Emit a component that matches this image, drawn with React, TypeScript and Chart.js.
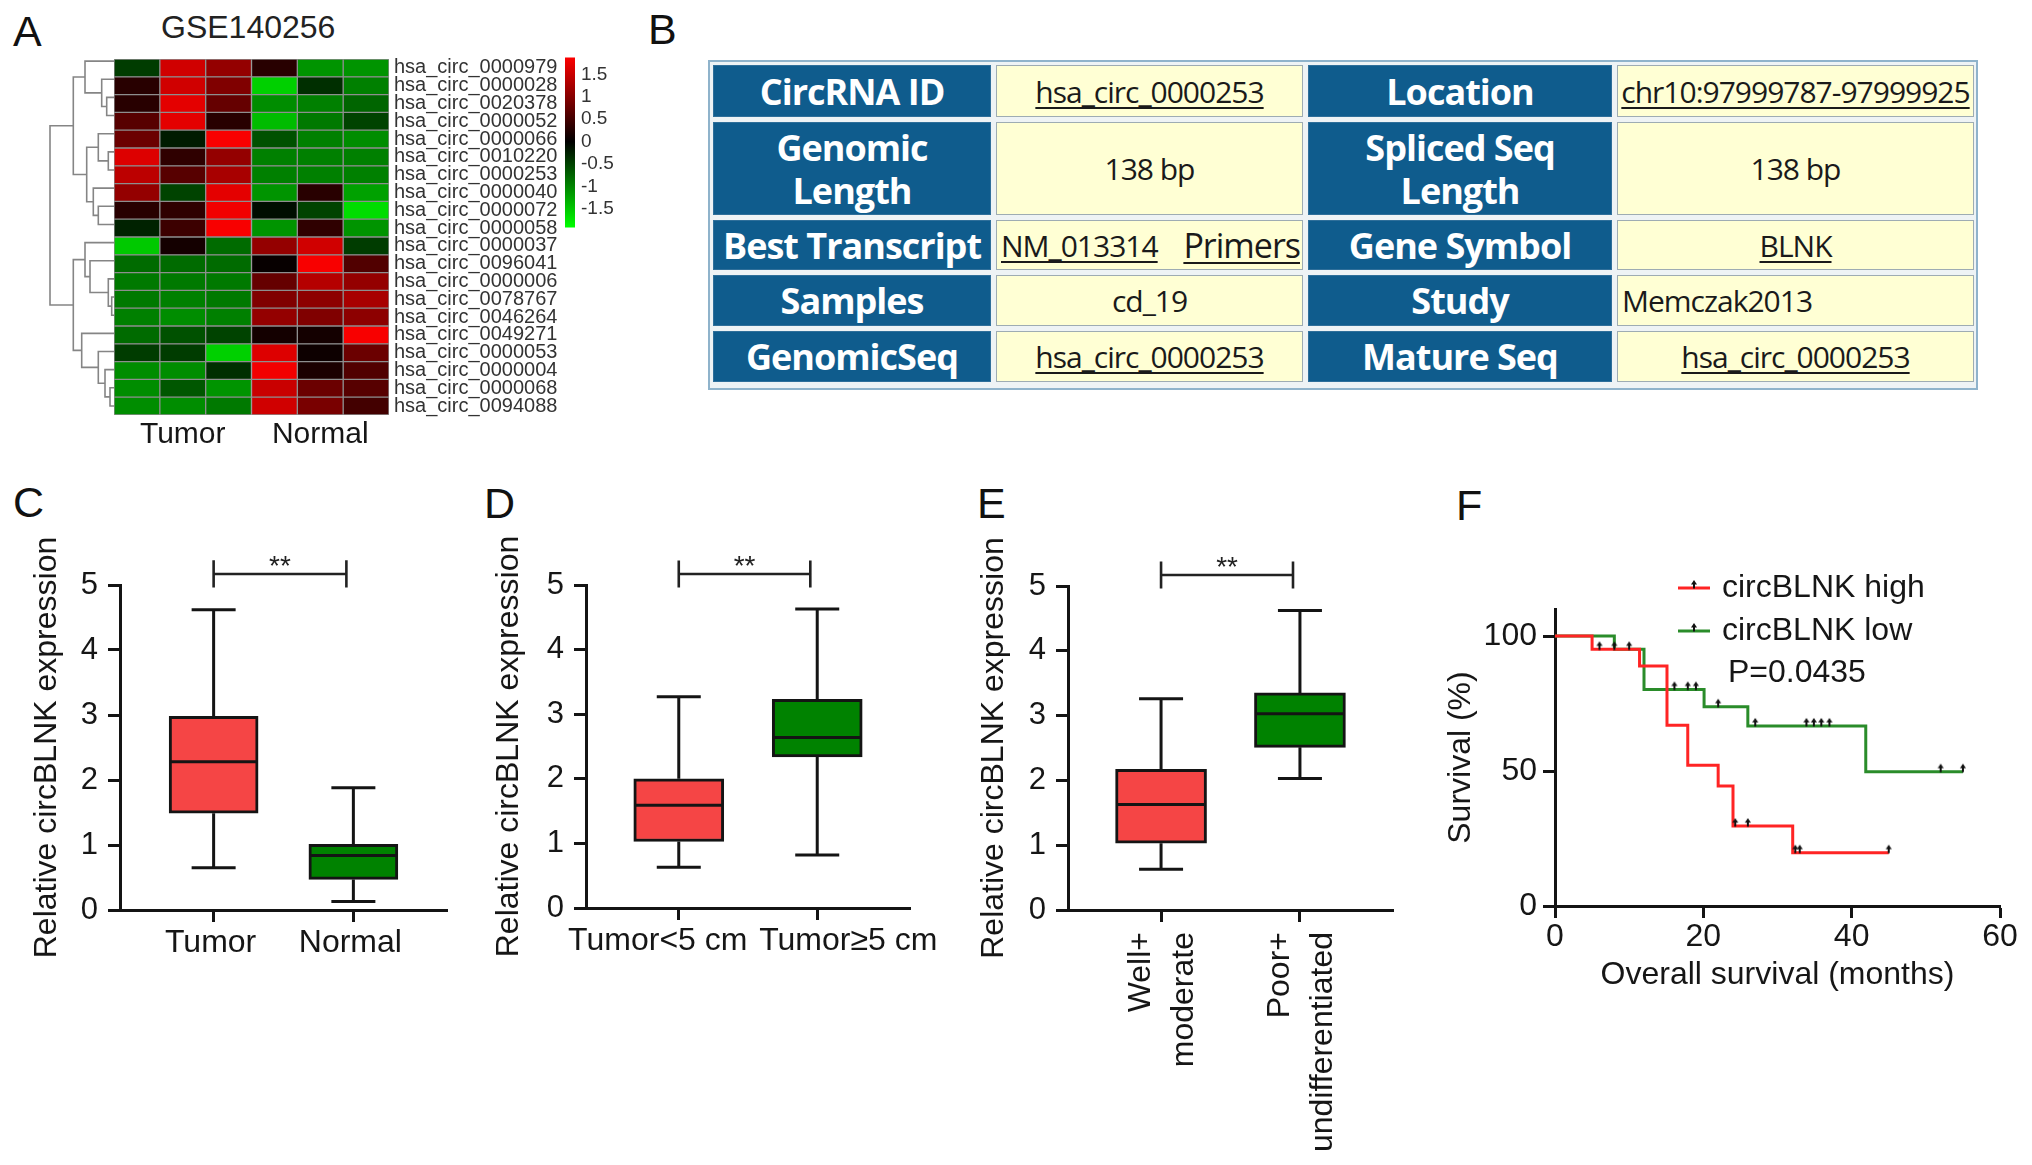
import React, { useEffect, useRef } from 'react';
import { Chart, registerables } from 'chart.js';

Chart.register(...registerables);

const SANS = '"Liberation Sans", Arial, Helvetica, sans-serif';
const TABLE_FONT = '"Open Sans", "Noto Sans", "DejaVu Sans", sans-serif';
const INK = '#161616';
const AXIS = '#141414';

Chart.defaults.font.family = SANS;
Chart.defaults.color = INK;

/* ================= Panel A : heatmap ================= */
const heatTitle = 'GSE140256';
const heatRows = [
  'hsa_circ_0000979', 'hsa_circ_0000028', 'hsa_circ_0020378', 'hsa_circ_0000052', 'hsa_circ_0000066',
  'hsa_circ_0010220', 'hsa_circ_0000253', 'hsa_circ_0000040', 'hsa_circ_0000072', 'hsa_circ_0000058',
  'hsa_circ_0000037', 'hsa_circ_0096041', 'hsa_circ_0000006', 'hsa_circ_0078767', 'hsa_circ_0046264',
  'hsa_circ_0049271', 'hsa_circ_0000053', 'hsa_circ_0000004', 'hsa_circ_0000068', 'hsa_circ_0094088',
];
const heatGroups = ['Tumor', 'Normal'];
const heatSamples = ['Tumor 1', 'Tumor 2', 'Tumor 3', 'Normal 1', 'Normal 2', 'Normal 3'];
const heatValues = [
  [-0.45, 1.55, 1.1, 0.3, -1.1, -1.1],
  [0.3, 1.55, 0.95, -1.55, -0.35, -0.95],
  [0.3, 1.7, 0.75, -1.05, -0.95, -0.75],
  [0.65, 1.7, 0.3, -1.4, -0.9, -0.5],
  [0.8, -0.2, 1.85, -0.6, -0.95, -1.05],
  [1.65, 0.35, 1.1, -0.95, -0.95, -0.95],
  [1.4, 0.65, 1.25, -0.95, -0.95, -0.95],
  [1.1, -0.5, 1.7, -1.1, 0.3, -1.2],
  [0.3, 0.35, 1.8, -0.1, -0.5, -1.65],
  [-0.25, 0.45, 1.85, -1.1, 0.35, -1.1],
  [-1.5, 0.15, -0.8, 1.1, 1.55, -0.45],
  [-0.8, -0.8, -0.8, 0.05, 1.85, 0.6],
  [-0.9, -0.9, -0.9, 0.75, 1.35, 1.1],
  [-0.9, -0.95, -0.9, 0.95, 1.05, 1.25],
  [-0.95, -1.05, -0.95, 1.1, 0.95, 1.05],
  [-0.8, -0.6, -0.5, 0.15, 0.15, 1.85],
  [-0.45, -0.45, -1.55, 1.65, 0.1, 0.8],
  [-1.05, -1.05, -0.35, 1.8, 0.2, 0.6],
  [-1.05, -0.65, -1.1, 1.5, 0.8, 0.65],
  [-1.05, -1.05, -0.9, 1.55, 0.9, 0.5],
];
const colorLimit = 1.9;
const colorbarRange = [-1.92, 1.88];
const colorbarTicks = [-1.5, -1, -0.5, 0, 0.5, 1, 1.5];
// hclust-style merges: negative = leaf (row index + 1), positive = earlier merge (1-based); third = height
const dendroMerges = [
  [-3, -4, 7.3], [-2, 1, 12.3], [-1, 2, 29], [-6, -7, 5.7], [-5, 4, 15.7],
  [-9, -10, 15.7], [-8, 6, 20.7], [5, 7, 27.3], [3, 8, 40.7], [-14, -15, 2.3],
  [-13, 10, 5.7], [-12, 11, 24], [-11, 12, 29], [-19, -20, 4], [-18, 14, 9],
  [-17, 15, 15.7], [-16, 16, 32.3], [13, 17, 40.7], [9, 18, 64],
];

/* ================= Panel B : table ================= */
const tableLeftHeads = ['CircRNA ID', 'Genomic\nLength', 'Best Transcript', 'Samples', 'GenomicSeq'];
const tableLeftValues = ['hsa_circ_0000253', '138 bp', ['NM_013314', 'Primers'], 'cd_19', 'hsa_circ_0000253'];
const tableLeftLinks = [true, false, true, false, true];
const tableRightHeads = ['Location', 'Spliced Seq\nLength', 'Gene Symbol', 'Study', 'Mature Seq'];
const tableRightValues = ['chr10:97999787-97999925', '138 bp', 'BLNK', 'Memczak2013', 'hsa_circ_0000253'];
const tableRightLinks = [true, false, true, false, true];
const tableRightAlign = ['center', 'center', 'center', 'left', 'center'];

/* ================= Panels C, D, E : box plots ================= */
const yTitleBox = 'Relative circBLNK expression';
const sigText = '**';

const cGroups = ['Tumor', 'Normal'];
const cMin = [0.65, 0.13];
const cQ1 = [1.49, 0.47];
const cMedian = [2.28, 0.84];
const cQ3 = [2.98, 1.01];
const cMax = [4.62, 1.88];

const dGroups = ['Tumor<5 cm', 'Tumor\u22655 cm'];
const dMin = [0.63, 0.82];
const dQ1 = [1.03, 2.34];
const dMedian = [1.59, 2.64];
const dQ3 = [2.0, 3.23];
const dMax = [3.27, 4.63];

const eGroups = [['Well+', 'moderate'], ['Poor+', 'undifferentiated']];
const eMin = [0.63, 2.03];
const eQ1 = [1.03, 2.51];
const eMedian = [1.63, 3.03];
const eQ3 = [2.17, 3.35];
const eMax = [3.26, 4.62];

/* ================= Panel F : Kaplan-Meier ================= */
const kmLabels = ['circBLNK high', 'circBLNK low'];
const highTimes = [0, 5, 11.4, 15.1, 17.9, 22, 24, 32.05, 45];
const highSurv = [100, 95.06, 88.9, 66.9, 52.1, 44.4, 29.6, 19.75, 19.75];
const highCensor = [6, 8, 10, 24.3, 26, 32.4, 33, 45];
const lowTimes = [0, 8, 12, 20.1, 26, 41.9, 55];
const lowSurv = [100, 95.06, 80.2, 73.8, 66.7, 49.75, 49.75];
const lowCensor = [16.1, 17.9, 19, 22, 27, 33.9, 34.9, 35.9, 37, 52, 55];
const kmXTicks = [0, 20, 40, 60];
const kmYTicks = [0, 50, 100];
const kmXTitle = 'Overall survival (months)';
const kmYTitle = 'Survival (%)';
const pValueText = 'P=0.0435';

/* ================= helpers ================= */
const BOX_RED = '#f54545';
const BOX_GREEN = '#008200';
const KM_RED = '#ff2424';
const KM_GREEN = '#2a8c2a';

function heatColor(v: number) {
  const t = Math.max(-1, Math.min(1, v / colorLimit));
  return t >= 0 ? `rgb(${Math.round(255 * t)},0,0)` : `rgb(0,${Math.round(-255 * t)},0)`;
}

const tickGrid = () => ({
  display: true, drawOnChartArea: false, drawTicks: true, tickLength: 12, tickWidth: 3, color: AXIS, offset: false,
});
const axisBorder = () => ({ display: true, width: 3, color: AXIS });

let censorMark: any = null;
function getCensorMark() {
  if (censorMark) return censorMark;
  const c = document.createElement('canvas');
  c.width = 8;
  c.height = 18;
  const g = c.getContext('2d')!;
  g.fillStyle = '#111';
  g.strokeStyle = '#111';
  g.lineWidth = 2;
  g.beginPath();
  g.moveTo(4, 9.5);
  g.lineTo(4, 3);
  g.stroke();
  g.beginPath();
  g.moveTo(1, 5.5);
  g.lineTo(7, 5.5);
  g.lineTo(4, 1);
  g.closePath();
  g.fill();
  censorMark = c;
  return c;
}

function levelAt(ts: number[], ss: number[], t: number) {
  let v = ss[0];
  for (let i = 0; i < ts.length; i++) if (ts[i] <= t) v = ss[i];
  return v;
}

/* ================= plugins ================= */
const boxExtrasPlugin = {
  id: 'boxExtras',
  afterDatasetsDraw(chart: any, _a: any, o: any) {
    const { ctx } = chart;
    const x = chart.scales.x;
    const y = chart.scales.y;
    ctx.save();
    ctx.strokeStyle = AXIS;
    ctx.lineWidth = 3;
    ctx.lineCap = 'butt';
    for (let i = 0; i < o.min.length; i++) {
      const cx = x.getPixelForValue(i + 1);
      const hc = o.capWidth / 2;
      const hb = o.boxWidth / 2 - 1.5;
      const yMin = y.getPixelForValue(o.min[i]);
      const yQ1 = y.getPixelForValue(o.q1[i]);
      const yMed = y.getPixelForValue(o.median[i]);
      const yQ3 = y.getPixelForValue(o.q3[i]);
      const yMax = y.getPixelForValue(o.max[i]);
      ctx.beginPath();
      ctx.moveTo(cx, yQ1); ctx.lineTo(cx, yMin);
      ctx.moveTo(cx - hc, yMin); ctx.lineTo(cx + hc, yMin);
      ctx.moveTo(cx, yQ3); ctx.lineTo(cx, yMax);
      ctx.moveTo(cx - hc, yMax); ctx.lineTo(cx + hc, yMax);
      ctx.moveTo(cx - hb, yMed); ctx.lineTo(cx + hb, yMed);
      ctx.stroke();
    }
    const s = o.sig;
    if (s) {
      const x1 = x.getPixelForValue(s.from);
      const x2 = x.getPixelForValue(s.to);
      const yy = y.getPixelForValue(s.y);
      const yt = y.getPixelForValue(s.y + s.arm);
      const yb = y.getPixelForValue(s.y - s.arm);
      ctx.lineWidth = 2.6;
      ctx.strokeStyle = '#222';
      ctx.beginPath();
      ctx.moveTo(x1, yy); ctx.lineTo(x2, yy);
      ctx.moveTo(x1, yt); ctx.lineTo(x1, yb);
      ctx.moveTo(x2, yt); ctx.lineTo(x2, yb);
      ctx.stroke();
      ctx.fillStyle = '#222';
      ctx.font = `28px ${SANS}`;
      ctx.textAlign = 'center';
      ctx.textBaseline = 'alphabetic';
      ctx.fillText(s.text, (x1 + x2) / 2, yy + 1);
    }
    ctx.restore();
  },
};

const shiftedLabelsPlugin = {
  id: 'shiftedLabels',
  afterDraw(chart: any, _a: any, o: any) {
    if (!o || !o.labels) return;
    const { ctx } = chart;
    const x = chart.scales.x;
    ctx.save();
    ctx.font = `${o.size}px ${SANS}`;
    ctx.fillStyle = INK;
    ctx.textAlign = 'center';
    ctx.textBaseline = 'middle';
    for (let i = 0; i < o.labels.length; i++) {
      ctx.fillText(o.labels[i], x.getPixelForValue(i + 1) + o.shifts[i], x.top + o.dy);
    }
    ctx.restore();
  },
};

const kmLegendPlugin = {
  id: 'kmLegend',
  afterDraw(chart: any, _a: any, o: any) {
    const { ctx, chartArea } = chart;
    const mark = getCensorMark();
    ctx.save();
    ctx.font = `${o.size}px ${SANS}`;
    ctx.textAlign = 'left';
    ctx.textBaseline = 'middle';
    for (let k = 0; k < 2; k++) {
      const ds = chart.data.datasets[k];
      const yy = chartArea.top + o.rows[k];
      const xa = chartArea.left + o.lineFrom;
      const xb = chartArea.left + o.lineTo;
      ctx.strokeStyle = ds.borderColor;
      ctx.lineWidth = 3;
      ctx.beginPath();
      ctx.moveTo(xa, yy);
      ctx.lineTo(xb, yy);
      ctx.stroke();
      ctx.drawImage(mark, (xa + xb) / 2 - mark.width / 2, yy - mark.height / 2);
      ctx.fillStyle = INK;
      ctx.fillText(ds.label, chartArea.left + o.textX, yy);
    }
    ctx.fillText(o.note, chartArea.left + o.noteX, chartArea.top + o.noteY);
    ctx.restore();
  },
};

/* ================= chart configs ================= */
function heatmapConfig() {
  return {
    type: 'bar',
    data: {
      labels: heatRows,
      datasets: heatSamples.map((name, c) => ({
        label: name,
        data: heatRows.map(() => 1),
        backgroundColor: heatValues.map((row) => heatColor(row[c])),
        borderColor: '#8e8e8e',
        borderWidth: 1,
        borderSkipped: false,
        barPercentage: 1,
        categoryPercentage: 1,
      })),
    },
    options: {
      indexAxis: 'y',
      responsive: true,
      maintainAspectRatio: false,
      animation: false,
      events: [],
      layout: { padding: { left: 10, top: 10, right: 0, bottom: 0 } },
      plugins: { legend: { display: false }, tooltip: { enabled: false }, title: { display: false } },
      scales: {
        x: {
          type: 'linear', stacked: true, min: 0, max: heatSamples.length,
          afterBuildTicks: (s: any) => { s.ticks = [{ value: 1.5 }, { value: 4.5 }]; },
          afterFit: (s: any) => { s.height = 52; },
          ticks: {
            callback: (v: number) => heatGroups[v < heatSamples.length / 2 ? 0 : 1],
            font: { size: 30 }, color: INK, padding: 2, autoSkip: false, maxRotation: 0,
          },
          grid: { display: false, drawTicks: false },
          border: { display: false },
        },
        y: {
          type: 'category', stacked: true, position: 'right',
          afterFit: (s: any) => { s.width = 195; },
          ticks: { font: { size: 20 }, color: '#333', padding: 5, autoSkip: false },
          grid: { display: false, drawTicks: false },
          border: { display: false },
        },
      },
    },
  };
}

function dendroConfig() {
  const pos: { y: number; h: number }[] = [];
  const node = (id: number) => (id < 0 ? { y: -id - 1 + 0.5, h: 0 } : pos[id - 1]);
  const segs: any[] = [];
  dendroMerges.forEach(([a, b, h]) => {
    const A = node(a);
    const B = node(b);
    segs.push([{ x: A.h, y: A.y }, { x: h, y: A.y }, { x: h, y: B.y }, { x: B.h, y: B.y }]);
    pos.push({ y: (A.y + B.y) / 2, h });
  });
  return {
    type: 'line',
    data: {
      datasets: segs.map((d) => ({
        data: d, borderColor: '#858585', borderWidth: 1.6, pointRadius: 0, tension: 0, clip: false,
      })),
    },
    options: {
      responsive: true, maintainAspectRatio: false, animation: false, events: [],
      layout: { padding: { left: 2, right: 2, top: 5, bottom: 5 } },
      plugins: { legend: { display: false }, tooltip: { enabled: false } },
      scales: {
        x: { type: 'linear', reverse: true, min: 0, max: 68, display: false },
        y: { type: 'linear', reverse: true, min: 0, max: heatRows.length, display: false },
      },
    },
  };
}

function colorbarConfig() {
  return {
    type: 'bar',
    data: {
      labels: ['scale'],
      datasets: [{
        data: [colorbarRange],
        borderWidth: 0,
        barPercentage: 1,
        categoryPercentage: 1,
        backgroundColor: (c: any) => {
          const chart = c.chart;
          if (!chart.chartArea) return '#000';
          const y = chart.scales.y;
          const y0 = y.getPixelForValue(colorbarRange[0]);
          const y1 = y.getPixelForValue(colorbarRange[1]);
          const g = chart.ctx.createLinearGradient(0, y0, 0, y1);
          const zero = (0 - colorbarRange[0]) / (colorbarRange[1] - colorbarRange[0]);
          g.addColorStop(0, heatColor(colorbarRange[0]));
          g.addColorStop(zero, heatColor(0));
          g.addColorStop(1, heatColor(colorbarRange[1]));
          return g;
        },
      }],
    },
    options: {
      responsive: true, maintainAspectRatio: false, animation: false, events: [],
      layout: { padding: { left: 5, right: 0, top: 12, bottom: 12 } },
      plugins: { legend: { display: false }, tooltip: { enabled: false } },
      scales: {
        x: { display: false },
        y: {
          type: 'linear', position: 'right', min: colorbarRange[0], max: colorbarRange[1],
          afterBuildTicks: (s: any) => { s.ticks = colorbarTicks.map((v) => ({ value: v })); },
          afterFit: (s: any) => { s.width = 65; },
          ticks: { font: { size: 19 }, color: '#333', padding: 6, callback: (v: number) => String(v) },
          grid: { display: false, drawTicks: false },
          border: { display: false },
        },
      },
    },
  };
}

function boxConfig(o: any) {
  const tickValues = o.groups.map((_: any, i: number) => i + 1);
  const plugins: any[] = [boxExtrasPlugin];
  if (o.shifted) plugins.push(shiftedLabelsPlugin);
  return {
    type: 'bar',
    data: {
      datasets: [{
        label: 'interquartile range',
        data: o.q1.map((q: number, i: number) => ({ x: i + 1, y: [q, o.q3[i]] })),
        backgroundColor: [BOX_RED, BOX_GREEN],
        borderColor: AXIS,
        borderWidth: 3,
        borderSkipped: false,
        barThickness: o.boxWidth,
      }],
    },
    plugins,
    options: {
      responsive: true, maintainAspectRatio: false, animation: false, events: [],
      layout: { padding: { left: o.pad.left, top: o.pad.top, right: o.pad.right, bottom: 0 } },
      plugins: {
        legend: { display: false },
        tooltip: { enabled: false },
        boxExtras: {
          min: o.min, q1: o.q1, median: o.median, q3: o.q3, max: o.max,
          capWidth: o.capWidth, boxWidth: o.boxWidth,
          sig: { from: 1, to: 1.95, y: 5.17, arm: 0.21, text: sigText },
        },
        shiftedLabels: o.shifted ? { labels: o.groups, shifts: o.shifted, size: 32, dy: 33 } : {},
      },
      scales: {
        x: {
          type: 'linear', min: 0.33, max: 2.67, offset: false,
          afterBuildTicks: (s: any) => { s.ticks = tickValues.map((v: number) => ({ value: v })); },
          afterFit: (s: any) => { s.height = o.xHeight; },
          ticks: {
            display: !o.shifted,
            callback: (v: number) => o.groups[Math.round(v) - 1],
            font: { size: 32, lineHeight: o.lineHeight },
            color: INK, padding: o.xPad, autoSkip: false,
            maxRotation: o.rot, minRotation: o.rot, labelOffset: o.labelOffset,
          },
          grid: tickGrid(),
          border: axisBorder(),
        },
        y: {
          type: 'linear', min: 0, max: 5,
          afterFit: (s: any) => { s.width = o.yWidth; },
          ticks: { stepSize: 1, font: { size: 31 }, color: INK, padding: 10 },
          title: { display: true, text: yTitleBox, font: { size: 32 }, color: INK, padding: 0 },
          grid: tickGrid(),
          border: axisBorder(),
        },
      },
    },
  };
}

const configC = () => boxConfig({
  groups: cGroups, min: cMin, q1: cQ1, median: cMedian, q3: cQ3, max: cMax,
  pad: { left: 28, top: 50, right: 23 }, yWidth: 92, xHeight: 90,
  boxWidth: 89, capWidth: 44, rot: 0, labelOffset: -3, xPad: 2, lineHeight: 1.2,
});
const configD = () => boxConfig({
  groups: dGroups, min: dMin, q1: dQ1, median: dMedian, q3: dQ3, max: dMax,
  pad: { left: 20, top: 50, right: 30 }, yWidth: 96, xHeight: 92,
  boxWidth: 90, capWidth: 44, rot: 0, labelOffset: 0, xPad: 2, lineHeight: 1.2,
  shifted: [-21, 31],
});
const configE = () => boxConfig({
  groups: eGroups, min: eMin, q1: eQ1, median: eMedian, q3: eQ3, max: eMax,
  pad: { left: 20, top: 51, right: 32 }, yWidth: 93, xHeight: 255,
  boxWidth: 91, capWidth: 44, rot: 90, labelOffset: -20, xPad: 10, lineHeight: 1.36,
});

function kmConfig() {
  const mark = getCensorMark();
  const pts = (ts: number[], ss: number[]) => ts.map((t, i) => ({ x: t, y: ss[i] }));
  const cens = (cs: number[], ts: number[], ss: number[]) => cs.map((c) => ({ x: c, y: levelAt(ts, ss, c) }));
  return {
    type: 'line',
    data: {
      datasets: [
        { label: kmLabels[0], data: pts(highTimes, highSurv), borderColor: KM_RED, borderWidth: 3, stepped: true, pointRadius: 0, fill: false, order: 0 },
        { label: kmLabels[1], data: pts(lowTimes, lowSurv), borderColor: KM_GREEN, borderWidth: 3, stepped: true, pointRadius: 0, fill: false, order: 1 },
        { label: kmLabels[0] + ' (censored)', data: cens(highCensor, highTimes, highSurv), showLine: false, pointStyle: mark, pointRadius: 5, order: -1, clip: false },
        { label: kmLabels[1] + ' (censored)', data: cens(lowCensor, lowTimes, lowSurv), showLine: false, pointStyle: mark, pointRadius: 5, order: -1, clip: false },
      ],
    },
    plugins: [kmLegendPlugin],
    options: {
      responsive: true, maintainAspectRatio: false, animation: false, events: [],
      layout: { padding: { left: 22, top: 74, right: 32, bottom: 6 } },
      plugins: {
        legend: { display: false },
        tooltip: { enabled: false },
        kmLegend: { size: 32, rows: [-21, 22], lineFrom: 123, lineTo: 155, textX: 167, note: pValueText, noteX: 173, noteY: 64 },
      },
      scales: {
        x: {
          type: 'linear', min: 0, max: 60,
          afterBuildTicks: (s: any) => { s.ticks = kmXTicks.map((v) => ({ value: v })); },
          afterFit: (s: any) => { s.height = 88; },
          ticks: { font: { size: 32 }, color: INK, padding: 0, maxRotation: 0, autoSkip: false },
          title: { display: true, text: kmXTitle, font: { size: 32 }, color: INK, padding: 0 },
          grid: tickGrid(),
          border: axisBorder(),
        },
        y: {
          type: 'linear', min: 0, max: 110,
          afterBuildTicks: (s: any) => { s.ticks = kmYTicks.map((v) => ({ value: v })); },
          afterFit: (s: any) => { s.width = 113; },
          ticks: { font: { size: 32 }, color: INK, padding: 6 },
          title: { display: true, text: kmYTitle, font: { size: 32 }, color: INK, padding: 0 },
          grid: tickGrid(),
          border: axisBorder(),
        },
      },
    },
  };
}

/* ================= components ================= */
function ChartBox({ left, top, width, height, build }: any) {
  const ref = useRef<HTMLCanvasElement>(null);
  useEffect(() => {
    const chart = new Chart(ref.current as HTMLCanvasElement, build());
    return () => chart.destroy();
  }, [build]);
  return (
    <div style={{ position: 'absolute', left, top, width, height }}>
      <canvas ref={ref} />
    </div>
  );
}

function Letter({ ch, left, top }: any) {
  return (
    <div style={{ position: 'absolute', left, top, font: `43px ${SANS}`, lineHeight: '43px', color: '#111' }}>{ch}</div>
  );
}

function ValueText({ text, link, size }: any) {
  return (
    <span style={{
      textDecoration: link ? 'underline' : 'none', textDecorationThickness: '2px', textUnderlineOffset: '4px',
      fontSize: size || 30,
    }}>{text}</span>
  );
}

function InfoTable() {
  const head: any = {
    background: '#0f5c8d', color: '#fff', fontFamily: TABLE_FONT, fontWeight: 700, fontSize: 36,
    letterSpacing: '-1px', display: 'flex', alignItems: 'center', justifyContent: 'center', textAlign: 'center',
    whiteSpace: 'pre-line', lineHeight: '43px', boxSizing: 'border-box', border: '1px solid #2f6f9a',
  };
  const val: any = {
    background: '#ffffd4', color: '#1a1a1a', fontFamily: TABLE_FONT, fontSize: 30, letterSpacing: '-1px',
    display: 'flex', alignItems: 'center', boxSizing: 'border-box', border: '1px solid #9eacb3',
    whiteSpace: 'nowrap', overflow: 'hidden',
  };
  const cells: any[] = [];
  for (let r = 0; r < tableLeftHeads.length; r++) {
    cells.push(<div key={`lh${r}`} style={head}>{tableLeftHeads[r]}</div>);
    const lv: any = tableLeftValues[r];
    if (Array.isArray(lv)) {
      cells.push(
        <div key={`lv${r}`} style={{ ...val, justifyContent: 'space-between', padding: '0 2px 0 4px' }}>
          <ValueText text={lv[0]} link={tableLeftLinks[r]} />
          <ValueText text={lv[1]} link={tableLeftLinks[r]} size={34} />
        </div>,
      );
    } else {
      cells.push(
        <div key={`lv${r}`} style={{ ...val, justifyContent: 'center' }}>
          <ValueText text={lv} link={tableLeftLinks[r]} />
        </div>,
      );
    }
    cells.push(<div key={`rh${r}`} style={head}>{tableRightHeads[r]}</div>);
    const align = tableRightAlign[r];
    cells.push(
      <div key={`rv${r}`} style={{ ...val, justifyContent: align === 'left' ? 'flex-start' : 'center', padding: align === 'left' ? '0 0 0 4px' : 0 }}>
        <ValueText text={tableRightValues[r]} link={tableRightLinks[r]} />
      </div>,
    );
  }
  return (
    <div style={{
      position: 'absolute', left: 708, top: 60, width: 1270, height: 330, boxSizing: 'border-box',
      border: '2px solid #8fb3cb', background: '#eef3f5', padding: '3px 2px 6px 3px',
    }}>
      <div style={{
        display: 'grid', gridTemplateColumns: '278px 307px 304px 357px', gridTemplateRows: '52px 93px 50px 51px 51px',
        columnGap: 5, rowGap: 5,
      }}>
        {cells}
      </div>
    </div>
  );
}

export default function App() {
  return (
    <div style={{ position: 'absolute', left: 0, top: 0, width: 2032, height: 1165, background: '#fff', overflow: 'hidden' }}>
      <Letter ch="A" left={13} top={10} />
      <Letter ch="B" left={648} top={8} />
      <Letter ch="C" left={13} top={481} />
      <Letter ch="D" left={484} top={482} />
      <Letter ch="E" left={977} top={482} />
      <Letter ch="F" left={1456} top={484} />

      <div style={{ position: 'absolute', left: 161, top: 11, font: `32px ${SANS}`, lineHeight: '32px', color: '#222' }}>{heatTitle}</div>

      <ChartBox left={44} top={47} width={72} height={373} build={dendroConfig} />
      <ChartBox left={104} top={42} width={480} height={425} build={heatmapConfig} />
      <ChartBox left={560} top={40} width={80} height={205} build={colorbarConfig} />

      <InfoTable />

      <ChartBox left={0} top={535} width={470} height={465} build={configC} />
      <ChartBox left={470} top={535} width={470} height={465} build={configD} />
      <ChartBox left={955} top={535} width={470} height={630} build={configE} />
      <ChartBox left={1420} top={535} width={612} height={465} build={kmConfig} />
    </div>
  );
}
